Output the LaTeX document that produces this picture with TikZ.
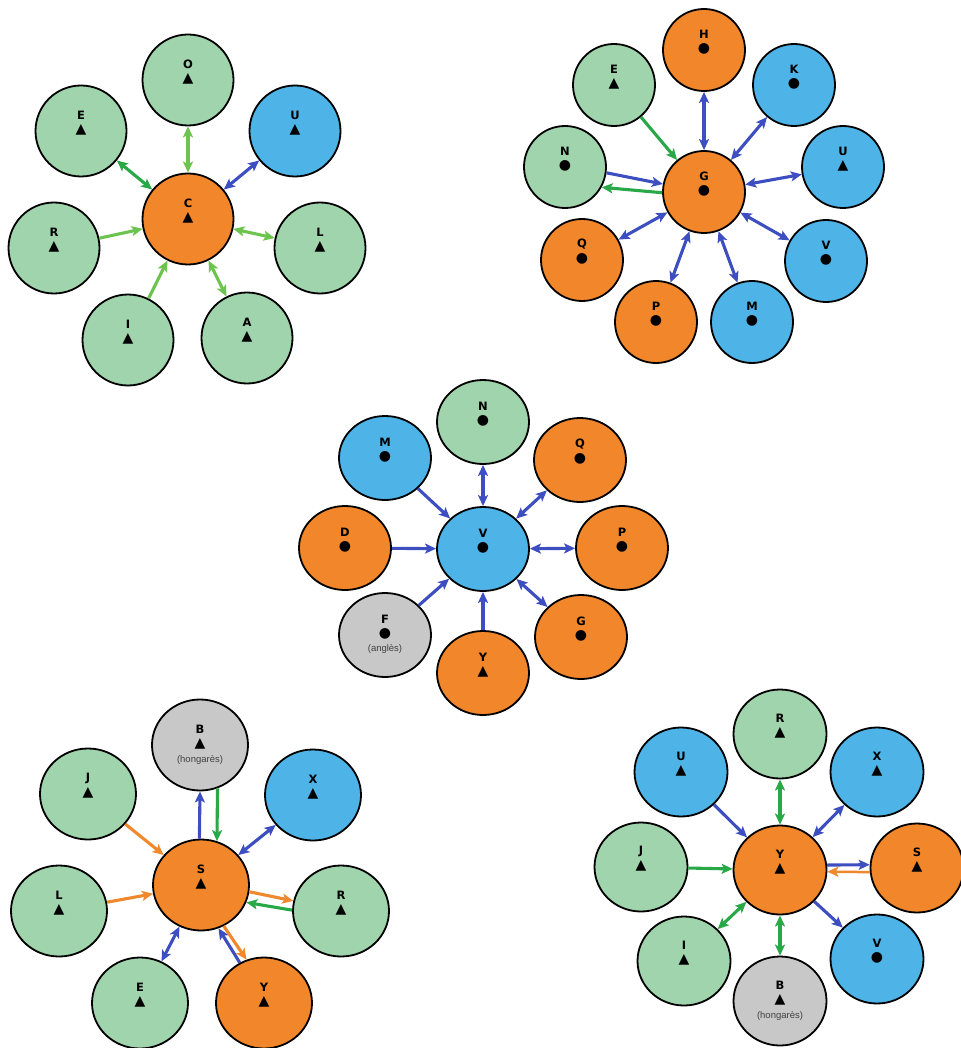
\documentclass[tikz,border=0pt]{standalone}
\usepackage{fontspec}
\setmainfont{DejaVu Sans}
\newfontfamily\symfont{DejaVu Sans}
\newfontfamily\subfont{Liberation Sans}
\usetikzlibrary{shapes.geometric,arrows.meta}
\definecolor{fgreen}{RGB}{160,212,172}
\definecolor{forange}{RGB}{242,134,42}
\definecolor{fblue}{RGB}{78,180,232}
\definecolor{fgray}{RGB}{200,200,200}
\definecolor{ablue}{RGB}{60,78,192}
\definecolor{agreen}{RGB}{40,168,70}
\definecolor{algreen}{RGB}{108,196,78}
\definecolor{aorange}{RGB}{240,136,46}
\newcommand\symtri{▲}
\newcommand\symdot{●}
\tikzset{
 bub/.style={ellipse, draw=black, line width=1.8pt, inner sep=0pt},
 ca/.style={bub, minimum width=91pt, minimum height=91pt},
 cb/.style={bub, minimum width=82pt, minimum height=82pt},
 cc/.style={bub, minimum width=92pt, minimum height=84pt},
 cd/.style={bub, minimum width=96pt, minimum height=91pt},
 ce/.style={bub, minimum width=93pt, minimum height=89pt},
 gr/.style={fill=fgreen}, og/.style={fill=forange}, bl/.style={fill=fblue}, gy/.style={fill=fgray},
 lbl/.style={font=\bfseries\fontsize{11.5}{11.5}\selectfont, inner sep=0pt},
 sym/.style={font=\symfont\fontsize{14}{14}\selectfont, inner sep=0pt},
 sub/.style={font=\subfont\fontsize{9.5}{9.5}\selectfont, text=black!75, inner sep=0pt},
 tip/.tip={Stealth[length=11pt,width=10pt,inset=2.5pt]},
 arr/.style={line width=3.1pt, -tip},
 darr/.style={line width=3.1pt, tip-tip},
 ab/.style={draw=ablue}, ag/.style={draw=agreen}, alg/.style={draw=algreen}, ao/.style={draw=aorange},
}
\newcommand\bub[5]{%
 \node[#2] (#1) at (#3) {};
 \node[lbl] (#1-l) at ([yshift=16pt]#1.center) {#4};
 \node[sym] (#1-s) at ([yshift=1pt]#1.center) {#5};}
\begin{document}
\begin{tikzpicture}[x=1pt,y=-1pt]
\useasboundingbox (0,0) rectangle (960,1048);
% ---------- cluster 1
\bub{aC}{ca,og}{188,219}{C}{\symtri}
\bub{aO}{ca,gr}{188,80}{O}{\symtri}
\bub{aE}{ca,gr}{81,131}{E}{\symtri}
\bub{aU}{ca,bl}{295,131}{U}{\symtri}
\bub{aR}{ca,gr}{54,248}{R}{\symtri}
\bub{aL}{ca,gr}{320,248}{L}{\symtri}
\bub{aI}{ca,gr}{128,340}{I}{\symtri}
\bub{aA}{ca,gr}{247,338}{A}{\symtri}
\draw[darr,ag] (aE) -- (aC);
\draw[darr,alg] (aO) -- (aC);
\draw[darr,ab] (aU) -- (aC);
\draw[arr,alg] (aR) -- (aC);
\draw[darr,alg] (aL) -- (aC);
\draw[arr,alg] (aI) -- (aC);
\draw[darr,alg] (aA) -- (aC);
% ---------- cluster 2
\bub{bG}{cb,og}{704,192}{G}{\symdot}
\bub{bH}{cb,og}{704,50}{H}{\symdot}
\bub{bE}{cb,gr}{614,85}{E}{\symtri}
\bub{bK}{cb,bl}{794,85}{K}{\symdot}
\bub{bN}{cb,gr}{565,167}{N}{\symdot}
\bub{bU}{cb,bl}{843,167}{U}{\symtri}
\bub{bQ}{cb,og}{582,260}{Q}{\symdot}
\bub{bV}{cb,bl}{826,261}{V}{\symdot}
\bub{bP}{cb,og}{656,322}{P}{\symdot}
\bub{bM}{cb,bl}{752,322}{M}{\symdot}
\foreach \n in {H,K,U,V,M,P,Q} \draw[darr,ab] (b\n) -- (bG);
\draw[arr,ag] (bE) -- (bG);
\draw[arr,ab] (bN.-8) -- (bG.169);
\draw[arr,ag] (bG.181) -- (bN.-29);
% ---------- cluster 3
\bub{cV}{cc,bl}{483,549}{V}{\symdot}
\bub{cN}{cc,gr}{483,422}{N}{\symdot}
\bub{cM}{cc,bl}{385,458}{M}{\symdot}
\bub{cQ}{cc,og}{580,460}{Q}{\symdot}
\bub{cD}{cc,og}{345,548}{D}{\symdot}
\bub{cP}{cc,og}{622,548}{P}{\symdot}
\bub{cF}{cc,gy}{385,635}{F}{\symdot}
\node[sub] (cF-t) at ([yshift=-14pt]cF.center) {(anglès)};
\bub{cG}{cc,og}{581,637}{G}{\symdot}
\bub{cY}{cc,og}{483,673}{Y}{\symtri}
\foreach \n in {M,D,F,Y} \draw[arr,ab] (c\n) -- (cV);
\foreach \n in {N,Q,P,G} \draw[darr,ab] (c\n) -- (cV);
% ---------- cluster 4
\bub{dS}{cd,og}{201,885}{S}{\symtri}
\bub{dB}{cd,gy}{200,745}{B}{\symtri}
\node[sub] (dB-t) at ([yshift=-15pt]dB.center) {(hongarès)};
\bub{dJ}{cd,gr}{88,794}{J}{\symtri}
\bub{dX}{cd,bl}{313,795}{X}{\symtri}
\bub{dL}{cd,gr}{59,911}{L}{\symtri}
\bub{dR}{cd,gr}{341,911}{R}{\symtri}
\bub{dE}{cd,gr}{140,1003}{E}{\symtri}
\bub{dY}{cd,og}{264,1003}{Y}{\symtri}
\draw[arr,ab] (dS.92) -- (dB.-90);
\draw[arr,ag] (dB.-68) -- (dS.70);
\draw[darr,ab] (dX) -- (dS);
\draw[arr,ao] (dJ) -- (dS);
\draw[arr,ao] (dL) -- (dS);
\draw[arr,ao] (dS.-8) -- (dR.168);
\draw[arr,ag] (dR.179) -- (dS.-21);
\draw[darr,ab] (dE) -- (dS);
\draw[arr,ab] (dY.121) -- (dS.-68);
\draw[arr,ao] (dS.-61) -- (dY.112);
% ---------- cluster 5
\bub{eY}{ce,og}{780,870}{Y}{\symtri}
\bub{eR}{ce,gr}{780,734}{R}{\symtri}
\bub{eU}{ce,bl}{681,772}{U}{\symtri}
\bub{eX}{ce,bl}{877,772}{X}{\symtri}
\bub{eJ}{ce,gr}{641,867}{J}{\symtri}
\bub{eS}{ce,og}{917,868}{S}{\symtri}
\bub{eI}{ce,gr}{684,961}{I}{\symtri}
\bub{eB}{ce,gy}{780,1001}{B}{\symtri}
\node[sub] (eB-t) at ([yshift=-15pt]eB.center) {(hongarès)};
\bub{eV}{ce,bl}{877,959}{V}{\symdot}
\draw[darr,ag] (eR) -- (eY);
\draw[arr,ab] (eU) -- (eY);
\draw[darr,ab] (eX) -- (eY);
\draw[arr,ag] (eJ) -- (eY);
\draw[darr,ag] (eI) -- (eY);
\draw[darr,ag] (eB) -- (eY);
\draw[arr,ab] (eY) -- (eV);
\draw[arr,ab] (eY.6) -- (eS.176);
\draw[arr,ao,line width=2.5pt] (eS.185) -- (eY.-2);
\end{tikzpicture}
\end{document}
